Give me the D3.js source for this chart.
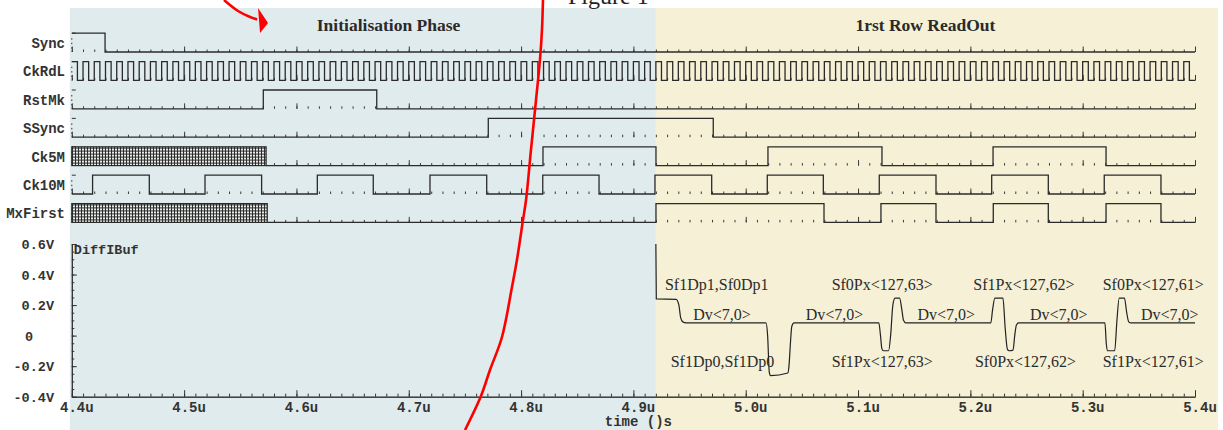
<!DOCTYPE html>
<html>
<head>
<meta charset="utf-8">
<script src="https://cdn.jsdelivr.net/npm/d3@7"></script>
<style>
body { margin: 0; background: #fff; }
svg { display: block; }
</style>
</head>
<body>
<svg id="chart" width="1223" height="430"></svg>
<script>
var width = 1223;
var height = 430;

// time axis, in microseconds
var timeTicks = [4.4, 4.5, 4.6, 4.7, 4.8, 4.9, 5.0, 5.1, 5.2, 5.3, 5.4];
var timeTickLabels = ["4.4u", "4.5u", "4.6u", "4.7u", "4.8u", "4.9u", "5.0u", "5.1u", "5.2u", "5.3u", "5.4u"];
var voltTicks = [0.6, 0.4, 0.2, 0, -0.2, -0.4];
var voltTickLabels = ["0.6V", "0.4V", "0.2V", "0", "-0.2V", "-0.4V"];

var phaseNames = ["Initialisation Phase", "1rst Row ReadOut"];
var phaseBounds = [4.4, 4.92, 5.4];
var phaseTitleAt = [4.682, 5.160];

// digital signals: [time, level]
var signalNames = ["Sync", "CkRdL", "RstMk", "SSync", "Ck5M", "Ck10M", "MxFirst"];
var syncEdges = [[4.4, 1], [4.4296, 0]];
var rstMkEdges = [[4.4, 0], [4.5705, 1], [4.6715, 0]];
var sSyncEdges = [[4.4, 0], [4.7708, 1], [4.9711, 0]];
var ck5MEdges = [[4.573, 0], [4.8195, 1], [4.9201, 0], [5.0198, 1], [5.1213, 0], [5.2202, 1], [5.3208, 0]];
var ck10MEdges = [[4.4, 0], [4.4185, 1], [4.4690, 0], [4.5186, 1], [4.5690, 0], [4.6186, 1], [4.6684, 0],
	[4.7189, 1], [4.7694, 0], [4.8193, 1], [4.8694, 0], [4.9192, 1], [4.9697, 0], [5.0192, 1], [5.0691, 0],
	[5.1189, 1], [5.1694, 0], [5.2190, 1], [5.2694, 0], [5.3192, 1], [5.3697, 0]];
var mxFirstEdges = [[4.574, 0], [4.9201, 1], [5.0697, 0], [5.1204, 1], [5.1694, 0], [5.2204, 1], [5.2694, 0], [5.3208, 1], [5.3697, 0]];
var ck5MUnknown = [4.4, 4.573];
var mxFirstUnknown = [4.4, 4.574];

var ckRdLRise = [4.40, 4.41, 4.42, 4.43, 4.44, 4.45, 4.46, 4.47, 4.48, 4.49,
	4.50, 4.51, 4.52, 4.53, 4.54, 4.55, 4.56, 4.57, 4.58, 4.59,
	4.60, 4.61, 4.62, 4.63, 4.64, 4.65, 4.66, 4.67, 4.68, 4.69,
	4.70, 4.71, 4.72, 4.73, 4.74, 4.75, 4.76, 4.77, 4.78, 4.79,
	4.80, 4.81, 4.82, 4.83, 4.84, 4.85, 4.86, 4.87, 4.88, 4.89,
	4.90, 4.91, 4.92, 4.93, 4.94, 4.95, 4.96, 4.97, 4.98, 4.99,
	5.00, 5.01, 5.02, 5.03, 5.04, 5.05, 5.06, 5.07, 5.08, 5.09,
	5.10, 5.11, 5.12, 5.13, 5.14, 5.15, 5.16, 5.17, 5.18, 5.19,
	5.20, 5.21, 5.22, 5.23, 5.24, 5.25, 5.26, 5.27, 5.28, 5.29,
	5.30, 5.31, 5.32, 5.33, 5.34, 5.35, 5.36, 5.37, 5.38, 5.39];
var ckRdLFall = [4.405, 4.415, 4.425, 4.435, 4.445, 4.455, 4.465, 4.475, 4.485, 4.495,
	4.505, 4.515, 4.525, 4.535, 4.545, 4.555, 4.565, 4.575, 4.585, 4.595,
	4.605, 4.615, 4.625, 4.635, 4.645, 4.655, 4.665, 4.675, 4.685, 4.695,
	4.705, 4.715, 4.725, 4.735, 4.745, 4.755, 4.765, 4.775, 4.785, 4.795,
	4.805, 4.815, 4.825, 4.835, 4.845, 4.855, 4.865, 4.875, 4.885, 4.895,
	4.905, 4.915, 4.925, 4.935, 4.945, 4.955, 4.965, 4.975, 4.985, 4.995,
	5.005, 5.015, 5.025, 5.035, 5.045, 5.055, 5.065, 5.075, 5.085, 5.095,
	5.105, 5.115, 5.125, 5.135, 5.145, 5.155, 5.165, 5.175, 5.185, 5.195,
	5.205, 5.215, 5.225, 5.235, 5.245, 5.255, 5.265, 5.275, 5.285, 5.295,
	5.305, 5.315, 5.325, 5.335, 5.345, 5.355, 5.365, 5.375, 5.385, 5.395];

// analog trace DiffIBuf: [time, volts]
var diffIBuf = [[4.9200, 0.60], [4.9204, 0.240], [4.9380, 0.238], [4.9405, 0.20], [4.9420, 0.12], [4.9440, 0.090], [4.9470, 0.083],
	[5.0180, 0.083], [5.0195, 0.00], [5.0210, -0.24], [5.0222, -0.262], [5.0375, -0.245], [5.0385, -0.20], [5.0398, -0.05], [5.0410, 0.06], [5.0430, 0.083],
	[5.1185, 0.083], [5.1200, 0.00], [5.1212, -0.085], [5.1225, -0.099], [5.1272, -0.099], [5.1290, 0.00], [5.1310, 0.20], [5.1330, 0.245],
	[5.1370, 0.245], [5.1390, 0.17], [5.1405, 0.10], [5.1425, 0.083],
	[5.2182, 0.083], [5.2198, 0.17], [5.2218, 0.245], [5.2290, 0.245], [5.2310, 0.05], [5.2330, -0.09], [5.2345, -0.099], [5.2380, -0.095],
	[5.2395, 0.00], [5.2410, 0.07], [5.2430, 0.083],
	[5.3198, 0.083], [5.3210, -0.05], [5.3220, -0.099], [5.3285, -0.099], [5.3305, 0.10], [5.3325, 0.245], [5.3372, 0.245],
	[5.3392, 0.15], [5.3410, 0.09], [5.3430, 0.083], [5.4000, 0.083]];

var waveLabels = ["Sf1Dp1,Sf0Dp1", "Dv<7,0>", "Sf1Dp0,Sf1Dp0", "Dv<7,0>", "Sf0Px<127,63>", "Sf1Px<127,63>", "Dv<7,0>",
	"Sf1Px<127,62>", "Sf0Px<127,62>", "Dv<7,0>", "Sf0Px<127,61>", "Sf1Px<127,61>", "Dv<7,0>"];
var waveLabelT = [4.9281, 4.9533, 4.9332, 5.0534, 5.0765, 5.0765, 5.1529, 5.2026, 5.2041, 5.2531, 5.3178, 5.3178, 5.3519];
var waveLabelV = [0.30, 0.10, -0.205, 0.10, 0.30, -0.205, 0.10, 0.30, -0.205, 0.10, 0.30, -0.205, 0.10];

// hand-drawn red marks: [time, pixel row]
var redStroke = [[4.8195, 0], [4.8186, 30], [4.8168, 60], [4.8133, 100], [4.8088, 150], [4.8044, 200], [4.8017, 220],
	[4.7963, 260], [4.7919, 287], [4.7830, 337], [4.7723, 370], [4.7643, 396], [4.7501, 430]];
var redArrow = [[4.5355, 0], [4.5480, 11], [4.5587, 17], [4.5650, 19.5]];
var redArrowHead = [[4.5658, 8], [4.5747, 23], [4.5676, 33]];

var monoFont = "'Liberation Mono', 'DejaVu Sans Mono', monospace";
var serifFont = "'Liberation Serif', 'DejaVu Serif', serif";

var svg = d3.select("#chart");

var x = d3.scaleLinear().domain([4.4, 5.4]).range([71.8, 1195]);
var row = d3.scalePoint().domain(signalNames).range([52, 222.4]);
var level = d3.scaleLinear().domain([0, 1]).range([0, -18.8]);
var yV = d3.scaleLinear().domain([-0.4, 0.6]).range([396.7, 244]);

var defs = svg.append("defs");
var hatch = defs.append("pattern")
	.attr("id", "hatch")
	.attr("patternUnits", "userSpaceOnUse")
	.attr("width", 3)
	.attr("height", 3);
hatch.append("rect").attr("width", 3).attr("height", 3).attr("fill", "#e8ece8");
hatch.append("rect").attr("x", 0).attr("y", 0).attr("width", 1).attr("height", 3).attr("fill", "#2b2b2b");
hatch.append("rect").attr("x", 0).attr("y", 0).attr("width", 3).attr("height", 1).attr("fill", "#2b2b2b");

// phase backgrounds
var bgColors = ["#e0ebed", "#f5f0d6"];
svg.selectAll(".phase")
	.data(phaseNames)
	.enter()
	.append("rect")
	.attr("class", "phase")
	.attr("x", (d, i) => i == 0 ? x(phaseBounds[i]) - 2 : x(phaseBounds[i]))
	.attr("y", 8)
	.attr("width", (d, i) => i == 0 ? x(phaseBounds[1]) - x(phaseBounds[0]) + 2 : x(phaseBounds[2]) - x(phaseBounds[1]) + 23)
	.attr("height", height - 8)
	.attr("fill", (d, i) => bgColors[i]);

svg.selectAll(".phaseTitle")
	.data(phaseNames)
	.enter()
	.append("text")
	.attr("class", "phaseTitle")
	.attr("x", (d, i) => x(phaseTitleAt[i]))
	.attr("y", 31)
	.attr("text-anchor", "middle")
	.style("font-family", serifFont)
	.style("font-weight", "bold")
	.style("font-size", "17.5px")
	.style("fill", "#2a2a2a")
	.text(d => d);

svg.append("text")
	.attr("x", 568)
	.attr("y", 4)
	.style("font-family", serifFont)
	.style("font-size", "24px")
	.style("fill", "#222")
	.text("Figure 1");

// digital rows
var ckRdLEdges = ckRdLRise.map(t => [t, 1]).concat(ckRdLFall.map(t => [t, 0]))
	.sort((a, b) => a[0] - b[0]);
var rowEdges = {
	"Sync": syncEdges, "CkRdL": ckRdLEdges, "RstMk": rstMkEdges, "SSync": sSyncEdges,
	"Ck5M": ck5MEdges, "Ck10M": ck10MEdges, "MxFirst": mxFirstEdges
};
var rowUnknown = { "Ck5M": ck5MUnknown, "MxFirst": mxFirstUnknown };

var stepLine = d3.line()
	.x(d => x(d[0]))
	.y(d => level(d[1]))
	.curve(d3.curveStepAfter);

signalNames.forEach(function (name) {
	var g = svg.append("g").attr("transform", "translate(0," + row(name) + ")");

	var minor = d3.axisTop(x).ticks(100).tickSize(2.5).tickFormat("");
	var major = d3.axisTop(x).ticks(10).tickSize(5.5).tickFormat("");
	g.append("g").attr("class", "rowTicks").call(minor);
	g.append("g").attr("class", "rowTicks").call(major);
	g.selectAll(".rowTicks .domain").remove();
	g.selectAll(".rowTicks line").attr("stroke", "#3a3a3a");

	// left marker
	g.append("line")
		.attr("x1", x(4.4)).attr("x2", x(4.4) + 4)
		.attr("y1", level(1)).attr("y2", level(1))
		.attr("stroke", "#333");
	g.append("line")
		.attr("x1", x(4.4)).attr("x2", x(4.4))
		.attr("y1", level(1) + 5).attr("y2", 0)
		.attr("stroke", "#333")
		.style("stroke-dasharray", "1.5,3");

	var edges = rowEdges[name];
	var pts = edges.concat([[5.4, edges[edges.length - 1][1]]]);
	g.append("path")
		.datum(pts)
		.attr("fill", "none")
		.attr("stroke", "#2b2b2b")
		.attr("stroke-width", 1.3)
		.attr("d", stepLine);

	if (rowUnknown[name]) {
		var u = rowUnknown[name];
		g.append("rect")
			.attr("x", x(u[0]))
			.attr("y", level(1))
			.attr("width", x(u[1]) - x(u[0]))
			.attr("height", level(0) - level(1))
			.attr("fill", "url(#hatch)")
			.attr("stroke", "#2b2b2b")
			.attr("stroke-width", 1.2);
	}

	g.append("text")
		.attr("x", 65)
		.attr("y", -4)
		.attr("text-anchor", "end")
		.style("font-family", monoFont)
		.style("font-weight", "bold")
		.style("font-size", "14px")
		.style("fill", "#333")
		.text(name);
});

// analog panel axes
var yAxisG = svg.append("g").attr("transform", "translate(" + x(4.4) + ",0)");
yAxisG.append("g").call(d3.axisLeft(yV).ticks(20).tickSizeInner(-2.5).tickSizeOuter(0).tickFormat(""));
yAxisG.append("g").call(d3.axisLeft(yV).tickValues(voltTicks).tickSizeInner(-5).tickSizeOuter(0).tickFormat(""));
yAxisG.selectAll("path, line").attr("stroke", "#333");

var xAxisG = svg.append("g").attr("transform", "translate(0," + yV(-0.4) + ")");
xAxisG.append("g").call(d3.axisTop(x).ticks(100).tickSizeInner(3).tickSizeOuter(0).tickFormat(""));
xAxisG.append("g").call(d3.axisTop(x).tickValues(timeTicks).tickSizeInner(6.5).tickSizeOuter(0).tickFormat(""));
xAxisG.selectAll("path, line").attr("stroke", "#333");

svg.selectAll(".xLabel")
	.data(timeTicks)
	.enter()
	.append("text")
	.attr("class", "xLabel")
	.attr("x", d => x(d) + 5)
	.attr("y", yV(-0.4) + 15)
	.attr("text-anchor", "middle")
	.style("font-family", monoFont)
	.style("font-weight", "bold")
	.style("font-size", "14px")
	.style("fill", "#333")
	.text((d, i) => timeTickLabels[i]);

svg.append("text")
	.attr("x", x(4.9) + 5)
	.attr("y", 425.5)
	.attr("text-anchor", "middle")
	.style("font-family", monoFont)
	.style("font-weight", "bold")
	.style("font-size", "14px")
	.style("fill", "#333")
	.text("time ()s");

svg.selectAll(".yLabel")
	.data(voltTicks)
	.enter()
	.append("text")
	.attr("class", "yLabel")
	.attr("x", d => d == 0 ? 25 : 54)
	.attr("y", d => yV(d) + 5)
	.attr("text-anchor", d => d == 0 ? "start" : "end")
	.style("font-family", monoFont)
	.style("font-weight", "bold")
	.style("font-size", "13.5px")
	.style("fill", "#333")
	.text((d, i) => voltTickLabels[i]);

svg.append("text")
	.attr("x", x(4.4) + 2)
	.attr("y", yV(0.6) + 10)
	.style("font-family", monoFont)
	.style("font-weight", "bold")
	.style("font-size", "13.5px")
	.style("fill", "#333")
	.text("DiffIBuf");

var waveLine = d3.line()
	.x(d => x(d[0]))
	.y(d => yV(d[1]))
	.curve(d3.curveMonotoneX);

svg.append("path")
	.datum(diffIBuf)
	.attr("fill", "none")
	.attr("stroke", "#222")
	.attr("stroke-width", 1.2)
	.attr("d", waveLine);

svg.selectAll(".waveLabel")
	.data(waveLabels)
	.enter()
	.append("text")
	.attr("class", "waveLabel")
	.attr("x", (d, i) => x(waveLabelT[i]))
	.attr("y", (d, i) => yV(waveLabelV[i]))
	.style("font-family", serifFont)
	.style("font-size", "16px")
	.style("fill", "#2b2b2b")
	.text(d => d);

// red annotation marks
var markLine = d3.line()
	.x(d => x(d[0]))
	.y(d => d[1])
	.curve(d3.curveCatmullRom);

svg.append("path")
	.datum(redStroke)
	.attr("fill", "none")
	.attr("stroke", "#f00")
	.attr("stroke-width", 2.6)
	.attr("d", markLine);

svg.append("path")
	.datum(redArrow)
	.attr("fill", "none")
	.attr("stroke", "#f00")
	.attr("stroke-width", 2.6)
	.attr("d", markLine);

svg.append("path")
	.datum(redArrowHead)
	.attr("fill", "#f00")
	.attr("d", d3.line().x(d => x(d[0])).y(d => d[1]).curve(d3.curveLinearClosed));
</script>
</body>
</html>
